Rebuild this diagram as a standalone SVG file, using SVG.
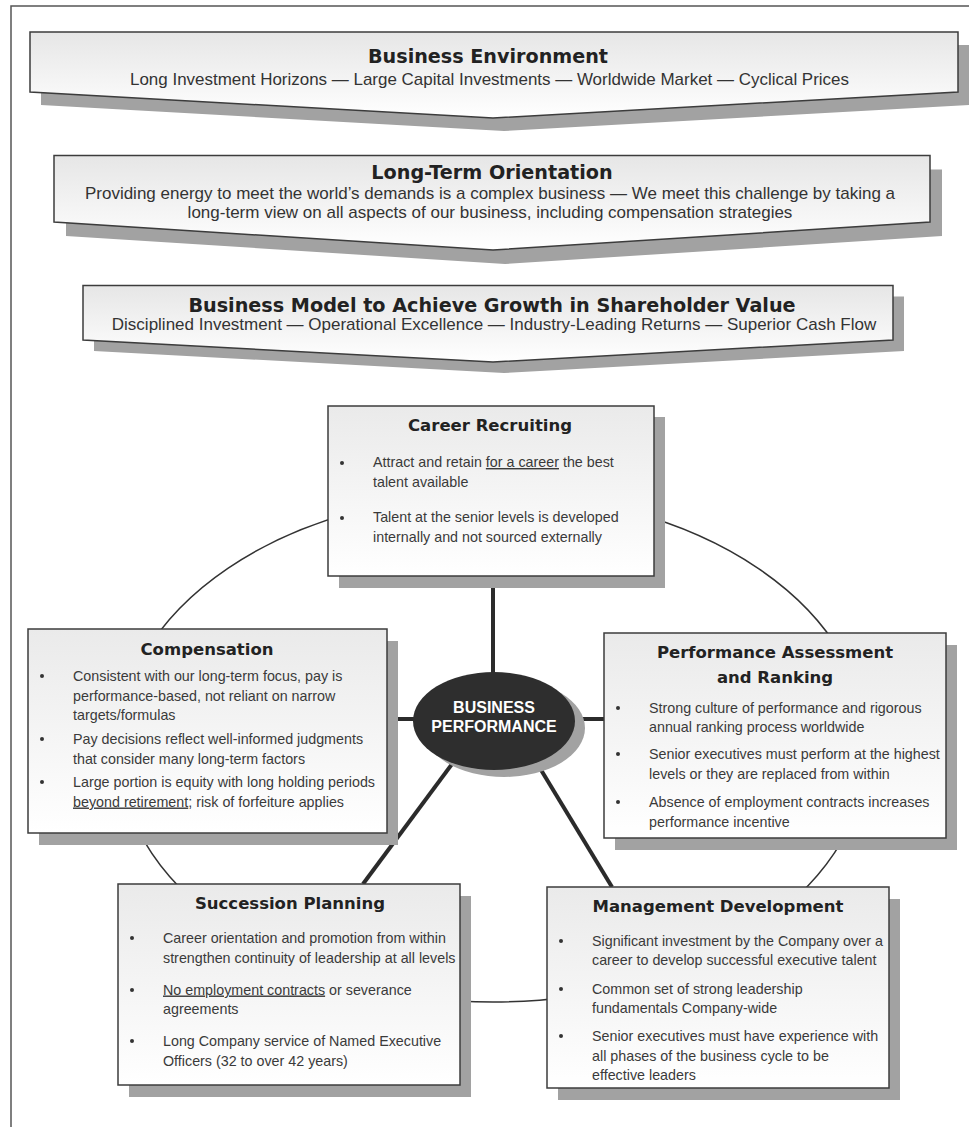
<svg xmlns="http://www.w3.org/2000/svg" width="969" height="1127" viewBox="0 0 969 1127">
<defs>
<linearGradient id="gb" x1="0" y1="0" x2="0" y2="1">
<stop offset="0" stop-color="#e6e6e6"/>
<stop offset="1" stop-color="#ffffff"/>
</linearGradient>
<linearGradient id="gx" x1="0" y1="0" x2="0" y2="1">
<stop offset="0" stop-color="#eaeaea"/>
<stop offset="1" stop-color="#ffffff"/>
</linearGradient>
</defs>
<style>
.frame{stroke:#555;stroke-width:1.5;fill:none}
.sh{fill:#a2a2a2}
.ban{fill:url(#gb);stroke:#3c3c3c;stroke-width:1.5}
.box{fill:url(#gx);stroke:#3c3c3c;stroke-width:1.5}
.bt{font-family:"DejaVu Sans",sans-serif;font-weight:bold;font-size:19.2px;fill:#222;text-anchor:middle}
.bs{font-family:"Liberation Sans",Arial,sans-serif;font-size:17px;fill:#333;text-anchor:middle}
.ht{font-family:"DejaVu Sans",sans-serif;font-weight:bold;font-size:16.5px;fill:#222;text-anchor:middle}
.tx{font-family:"Liberation Sans",Arial,sans-serif;font-size:14.3px;fill:#3a3a3a}
.dot{fill:#333}
.ring{fill:none;stroke:#333;stroke-width:1.5}
.con{stroke:#2b2b2b;stroke-width:4;fill:none}
.ct{font-family:"Liberation Sans",Arial,sans-serif;font-weight:bold;font-size:16px;fill:#ffffff;text-anchor:middle}
</style>
<rect width="969" height="1127" fill="#ffffff"/>
<path class="frame" d="M11,1127 V6 H969"/>

<g id="banner-environment">
<polygon class="sh" transform="translate(11,13)" points="30,32 958,32 958,92 493,118 30,92"/>
<polygon class="ban" points="30,32 958,32 958,92 493,118 30,92"/>
<text class="bt" x="488" y="63" textLength="240" lengthAdjust="spacingAndGlyphs">Business Environment</text>
<text class="bs" x="489.5" y="85" textLength="719" lengthAdjust="spacingAndGlyphs">Long Investment Horizons — Large Capital Investments — Worldwide Market — Cyclical Prices</text>
</g>

<g id="banner-orientation">
<polygon class="sh" transform="translate(12,14)" points="54,155.5 930,155.5 930,222 493,250 54,222"/>
<polygon class="ban" points="54,155.5 930,155.5 930,222 493,250 54,222"/>
<text class="bt" x="492" y="179">Long-Term Orientation</text>
<text class="bs" x="490" y="199">Providing energy to meet the world’s demands is a complex business — We meet this challenge by taking a</text>
<text class="bs" x="490" y="217.5">long-term view on all aspects of our business, including compensation strategies</text>
</g>

<g id="banner-model">
<polygon class="sh" transform="translate(11,11)" points="83,285.5 893,285.5 893,340 493,362 83,340"/>
<polygon class="ban" points="83,285.5 893,285.5 893,340 493,362 83,340"/>
<text class="bt" x="492" y="311.5">Business Model to Achieve Growth in Shareholder Value</text>
<text class="bs" x="494" y="330">Disciplined Investment — Operational Excellence — Industry-Leading Returns — Superior Cash Flow</text>
</g>

<g id="connectors">
<ellipse class="ring" cx="493" cy="748" rx="375" ry="254"/>
<line class="con" x1="493" y1="576" x2="493" y2="690"/>
<line class="con" x1="387" y1="719" x2="430" y2="719"/>
<line class="con" x1="604" y1="719" x2="560" y2="719"/>
<line class="con" x1="455" y1="760" x2="363" y2="884"/>
<line class="con" x1="535" y1="760" x2="612" y2="887"/>
</g>

<g id="career-recruiting">
<rect class="sh" x="339" y="417" width="326" height="171"/>
<rect class="box" x="328" y="406" width="326" height="170"/>
<text class="ht" x="490" y="431">Career Recruiting</text>
<circle class="dot" cx="342" cy="463" r="2"/>
<circle class="dot" cx="342" cy="518" r="2"/>
<text class="tx" x="373" y="467">Attract and retain <tspan text-decoration="underline">for a career</tspan> the best</text>
<text class="tx" x="373" y="486.5">talent available</text>
<text class="tx" x="373" y="522">Talent at the senior levels is developed</text>
<text class="tx" x="373" y="542">internally and not sourced externally</text>
</g>

<g id="compensation">
<rect class="sh" x="39" y="641" width="359" height="204"/>
<rect class="box" x="28" y="629" width="359" height="204"/>
<text class="ht" x="207" y="655">Compensation</text>
<circle class="dot" cx="42" cy="676" r="2"/>
<circle class="dot" cx="42" cy="739" r="2"/>
<circle class="dot" cx="42" cy="782" r="2"/>
<text class="tx" x="73" y="680.5">Consistent with our long-term focus, pay is</text>
<text class="tx" x="73" y="700.5">performance-based, not reliant on narrow</text>
<text class="tx" x="73" y="720">targets/formulas</text>
<text class="tx" x="73" y="743.5">Pay decisions reflect well-informed judgments</text>
<text class="tx" x="73" y="763.5">that consider many long-term factors</text>
<text class="tx" x="73" y="786.5">Large portion is equity with long holding periods</text>
<text class="tx" x="73" y="806.5"><tspan text-decoration="underline">beyond retirement</tspan>; risk of forfeiture applies</text>
</g>

<g id="performance-assessment">
<rect class="sh" x="615" y="645" width="342" height="205"/>
<rect class="box" x="604" y="633" width="342" height="205"/>
<text class="ht" x="775" y="658">Performance Assessment</text>
<text class="ht" x="775" y="683">and Ranking</text>
<circle class="dot" cx="618" cy="708" r="2"/>
<circle class="dot" cx="618" cy="754" r="2"/>
<circle class="dot" cx="618" cy="802" r="2"/>
<text class="tx" x="649" y="713">Strong culture of performance and rigorous</text>
<text class="tx" x="649" y="732">annual ranking process worldwide</text>
<text class="tx" x="649" y="759">Senior executives must perform at the highest</text>
<text class="tx" x="649" y="779">levels or they are replaced from within</text>
<text class="tx" x="649" y="807">Absence of employment contracts increases</text>
<text class="tx" x="649" y="827">performance incentive</text>
</g>

<g id="succession-planning">
<rect class="sh" x="129" y="896" width="342" height="201"/>
<rect class="box" x="118" y="884" width="342" height="201"/>
<text class="ht" x="290" y="909">Succession Planning</text>
<circle class="dot" cx="132" cy="938" r="2"/>
<circle class="dot" cx="132" cy="990" r="2"/>
<circle class="dot" cx="132" cy="1041" r="2"/>
<text class="tx" x="163" y="943">Career orientation and promotion from within</text>
<text class="tx" x="163" y="962.5">strengthen continuity of leadership at all levels</text>
<text class="tx" x="163" y="994.5"><tspan text-decoration="underline">No employment contracts</tspan> or severance</text>
<text class="tx" x="163" y="1014">agreements</text>
<text class="tx" x="163" y="1046">Long Company service of Named Executive</text>
<text class="tx" x="163" y="1066">Officers (32 to over 42 years)</text>
</g>

<g id="management-development">
<rect class="sh" x="558" y="899" width="342" height="201"/>
<rect class="box" x="547" y="887" width="342" height="201"/>
<text class="ht" x="718" y="911.5">Management  Development</text>
<circle class="dot" cx="561" cy="941" r="2"/>
<circle class="dot" cx="561" cy="989" r="2"/>
<circle class="dot" cx="561" cy="1036" r="2"/>
<text class="tx" x="592" y="945.5">Significant investment by the Company over a</text>
<text class="tx" x="592" y="965">career to develop successful executive talent</text>
<text class="tx" x="592" y="994">Common set of strong leadership</text>
<text class="tx" x="592" y="1013">fundamentals Company-wide</text>
<text class="tx" x="592" y="1041">Senior executives must have experience with</text>
<text class="tx" x="592" y="1060.5">all phases of the business cycle to be</text>
<text class="tx" x="592" y="1079.5">effective leaders</text>
</g>

<g id="business-performance">
<ellipse class="sh" cx="504" cy="728" rx="81" ry="49"/>
<ellipse cx="494" cy="721" rx="81" ry="49" fill="#2e2e2e"/>
<text class="ct" x="494" y="713">BUSINESS</text>
<text class="ct" x="494" y="732">PERFORMANCE</text>
</g>
</svg>
